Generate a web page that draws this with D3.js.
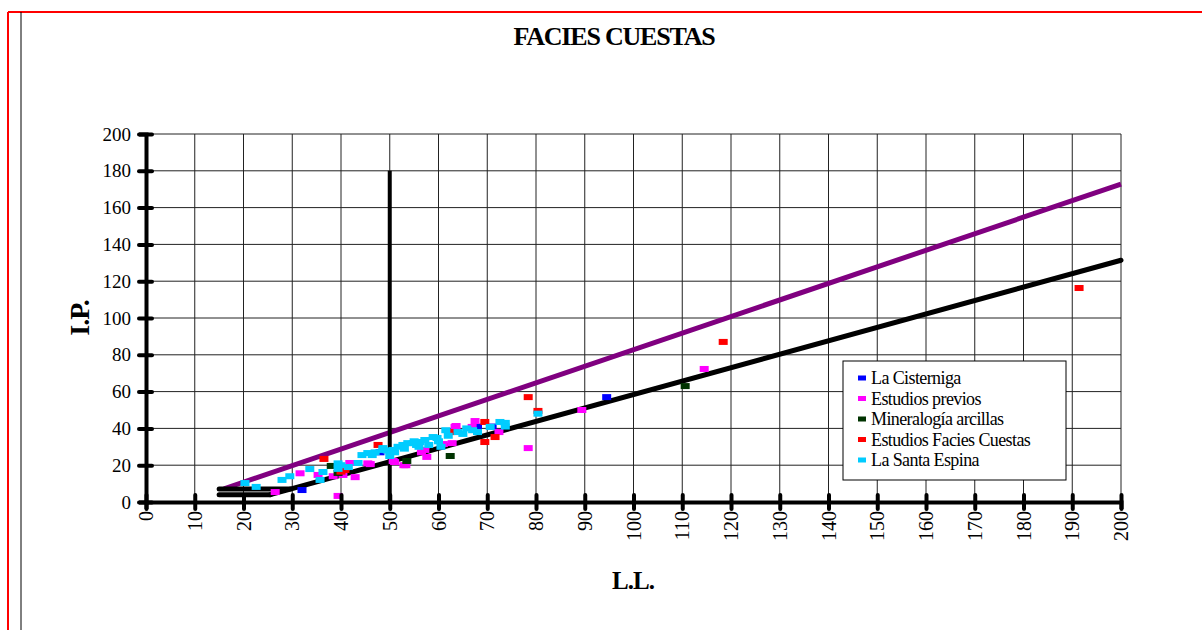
<!DOCTYPE html>
<html>
<head>
<meta charset="utf-8">
<script src="https://cdn.jsdelivr.net/npm/d3@7"></script>
<style>
  body { margin: 0; background: #fff; }
  svg { display: block; font-family: "Liberation Serif", "Times New Roman", serif; }
  svg text { font-family: "Liberation Serif", "Times New Roman", serif; }
</style>
</head>
<body>
<div id="chart"></div>
<script>
// ticks
const xTicks = d3.range(0, 201, 10);
const yTicks = d3.range(0, 201, 20);

// points [L.L., I.P.]
const laCisterniga = [[32, 6.5], [48, 27], [68, 41], [71, 41], [94.5, 57]];
const estudiosPrevios = [
  [26.5, 5.4], [31.6, 15.6], [35.3, 14.7], [38.4, 14], [39.4, 3.3], [40.4, 14.7],
  [42.9, 13.5], [41.8, 21.2], [45.5, 21], [46, 20.6], [50.7, 22.3], [51, 21.7],
  [52.9, 20], [53.3, 20], [57.2, 28.3], [57.6, 24.5], [56.5, 27], [61, 31.5],
  [62.8, 32], [63.4, 40.8], [63.6, 41.3], [66.9, 40.8], [67.5, 44], [72.4, 38],
  [78.4, 29.3], [89.4, 50], [114.5, 72.3]
];
const mineralogia = [[38, 19.6], [39.4, 15.8], [53.5, 22.3], [62.4, 25], [110.6, 63]];
const faciesCuestas = [
  [36.5, 23.4], [40.8, 17.4], [40, 16.5], [47.6, 31], [62.4, 38], [69.5, 43.5],
  [69.5, 32.6], [71.6, 35.3], [78.4, 57], [80.4, 49.5], [118.4, 87], [191.4, 116.3]
];
const santaEspina = [
  [20.3, 10.3], [22.6, 8.2], [27.9, 12], [29.5, 14], [33.6, 17.9], [35.7, 12],
  [36.3, 16.3], [39.4, 21], [39.4, 18], [40, 20], [41.5, 19], [43.5, 21.2],
  [44.3, 25.5], [45.5, 26.6], [46.4, 25.5], [47, 27], [48.6, 28.3], [48.6, 29.3],
  [49.5, 28], [50, 25], [50.7, 28.3], [51, 27], [51.7, 30], [52.7, 31], [53, 29],
  [53.7, 32], [54.8, 32], [55, 33], [55.5, 31], [56, 30], [56.2, 32.6], [57.2, 33.7],
  [58, 31], [58.9, 35.3], [59.7, 34.8], [60, 33], [60.5, 30], [61.5, 39], [62, 36],
  [64, 38], [65, 37], [65.8, 40], [67, 39], [68, 38], [70.6, 40.8], [72.6, 43.5],
  [73.7, 43], [73.7, 41], [80.4, 48]
];

// Casagrande reference lines
const lineaU = [[16, 7.2], [200, 172.8]];
const lineaA = [[25.5, 4], [200, 131.4]];
const tramoSup = [[15, 7], [29.6, 7]];
const tramoInf = [[15, 4], [25.5, 4]];
const lineaLL50 = [[50, 0], [50, 180]];

const series = [
  { name: "La Cisterniga", color: "#0000ff", data: laCisterniga },
  { name: "Estudios previos", color: "#ff00ff", data: estudiosPrevios },
  { name: "Mineralogía arcillas", color: "#003300", data: mineralogia },
  { name: "Estudios Facies Cuestas", color: "#ff0000", data: faciesCuestas },
  { name: "La Santa Espina", color: "#00ccff", data: santaEspina }
];

const W = 1202, H = 630;
const svg = d3.select("#chart").append("svg").attr("width", W).attr("height", H);

// marco
svg.append("line").attr("x1", 8).attr("y1", 12).attr("x2", W).attr("y2", 12)
  .attr("stroke", "#ff0000").attr("stroke-width", 2);
svg.append("line").attr("x1", 8).attr("y1", 12).attr("x2", 8).attr("y2", H)
  .attr("stroke", "#ff0000").attr("stroke-width", 2);
svg.append("line").attr("x1", 21).attr("y1", 12).attr("x2", 21).attr("y2", H)
  .attr("stroke", "#000").attr("stroke-width", 1);

const x = d3.scaleLinear().domain([0, 200]).range([146, 1121]);
const y = d3.scaleLinear().domain([0, 200]).range([502, 134]);

// rejilla
svg.append("g").selectAll("line").data(xTicks).join("line")
  .attr("x1", d => x(d)).attr("x2", d => x(d))
  .attr("y1", y(200)).attr("y2", y(0))
  .attr("stroke", "#222").attr("stroke-width", 1);
svg.append("g").selectAll("line").data(yTicks).join("line")
  .attr("x1", x(0)).attr("x2", x(200))
  .attr("y1", d => y(d)).attr("y2", d => y(d))
  .attr("stroke", "#222").attr("stroke-width", 1);

const line = d3.line().x(d => x(d[0])).y(d => y(d[1]));

svg.append("path").attr("d", line(lineaU)).attr("fill", "none")
  .attr("stroke", "#800080").attr("stroke-width", 5);
[lineaA, tramoSup, tramoInf].forEach(l => {
  svg.append("path").attr("d", line(l)).attr("fill", "none")
    .attr("stroke", "#000").attr("stroke-width", 5).attr("stroke-linecap", "round");
});
svg.append("path").attr("d", line(lineaLL50)).attr("fill", "none")
  .attr("stroke", "#000").attr("stroke-width", 4);

// puntos
series.forEach(s => {
  svg.append("g").selectAll("rect").data(s.data).join("rect")
    .attr("x", d => x(d[0]) - 4.5).attr("y", d => y(d[1]) - 3)
    .attr("width", 9).attr("height", 6)
    .attr("fill", s.color);
});

// ejes
const gx = svg.append("g").attr("transform", `translate(0,${y(0)})`)
  .call(d3.axisBottom(x).tickValues(xTicks).tickSize(7).tickFormat(d3.format("d")))
  .attr("font-family", null);
gx.select(".domain").attr("stroke-width", 4).attr("stroke", "#000");
gx.selectAll(".tick line").attr("y1", -7).attr("stroke-width", 4).attr("stroke-linecap", "round");
gx.selectAll(".tick text")
  .attr("transform", "rotate(-90)")
  .attr("text-anchor", "end").attr("x", -9).attr("y", 0).attr("dy", "0.33em")
  .style("font-size", "20px").style("font-family", "'Liberation Serif', serif").attr("fill", "#000");

const gy = svg.append("g").attr("transform", `translate(${x(0)},0)`)
  .call(d3.axisLeft(y).tickValues(yTicks).tickSize(7))
  .attr("font-family", null);
gy.select(".domain").attr("stroke-width", 4).attr("stroke", "#000");
gy.selectAll(".tick line").attr("x1", 6).attr("stroke-width", 4).attr("stroke-linecap", "round");
gy.selectAll(".tick text").attr("x", -15)
  .style("font-size", "19px").style("font-family", "'Liberation Serif', serif").attr("fill", "#000");

// textos
svg.append("text").attr("x", 614).attr("y", 45).attr("text-anchor", "middle")
  .style("font-size", "26px").style("font-weight", "bold").style("letter-spacing", "-1.2px")
  .text("FACIES CUESTAS");
svg.append("text").attr("transform", "translate(89,318) rotate(-90)").attr("text-anchor", "middle")
  .style("font-size", "28px").style("font-weight", "bold").style("letter-spacing", "-1px")
  .text("I.P.");
svg.append("text").attr("x", 633).attr("y", 589).attr("text-anchor", "middle")
  .style("font-size", "25px").style("font-weight", "bold").style("letter-spacing", "-1px")
  .text("L.L.");

// leyenda
const lg = svg.append("g").attr("transform", "translate(843,361)");
lg.append("rect").attr("width", 223).attr("height", 119)
  .attr("fill", "#fff").attr("stroke", "#000").attr("stroke-width", 1);
series.forEach((s, i) => {
  const row = lg.append("g").attr("transform", `translate(0,${17 + i * 20.5})`);
  row.append("rect").attr("x", 15).attr("y", -2.5).attr("width", 8).attr("height", 5).attr("fill", s.color);
  row.append("text").attr("x", 28).attr("y", 6)
    .style("font-size", "18px").style("letter-spacing", "-0.6px").text(s.name);
});
</script>
</body>
</html>
